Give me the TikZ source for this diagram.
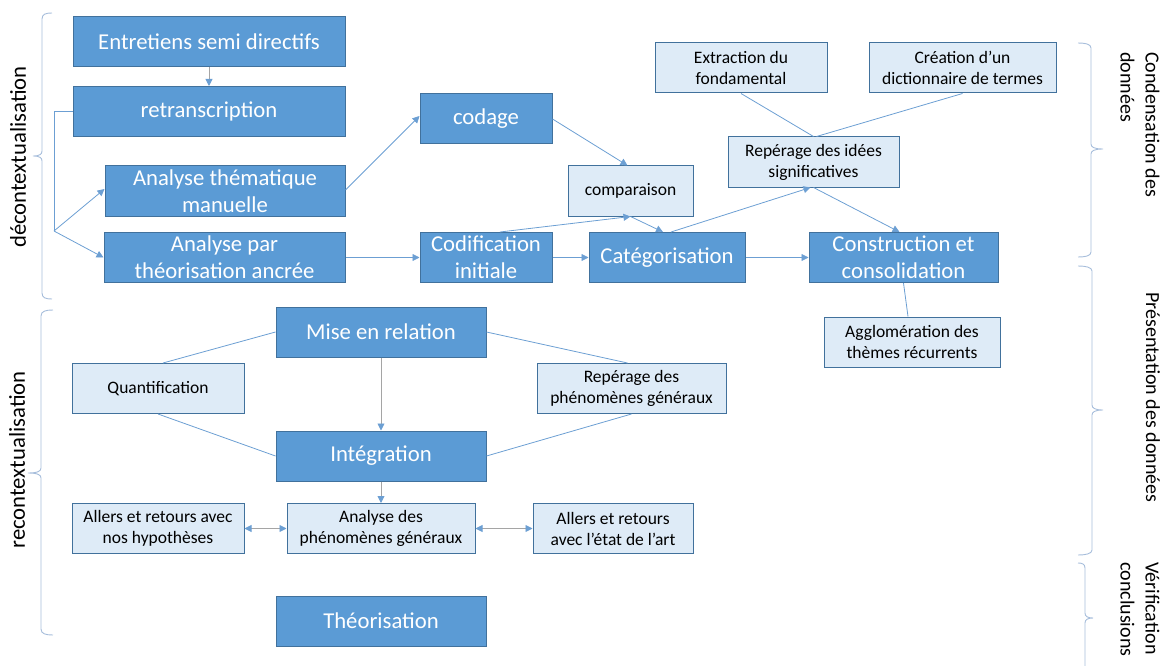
\documentclass[tikz,border=0pt]{standalone}
\usepackage{fontspec}
\setmainfont{Carlito}
\usetikzlibrary{arrows.meta,calc}
\definecolor{dk}{HTML}{5B9BD5}
\definecolor{bd}{HTML}{41719C}
\definecolor{lt}{HTML}{DEEBF7}
\definecolor{ln}{HTML}{6C9FD3}
\definecolor{gr}{HTML}{A5A5A5}
\definecolor{br}{HTML}{A6BDDB}
\begin{document}
\begin{tikzpicture}[x=1pt,y=-1pt,
 dark/.style={draw=bd,fill=dk,line width=1pt,text=white,align=center,inner sep=0pt,minimum height=50pt,font=\fontsize{22.7}{27}\selectfont},
 light/.style={draw=bd,fill=lt,line width=1pt,text=black,align=center,inner sep=0pt,minimum height=50pt,font=\fontsize{17.5}{21}\selectfont},
 link/.style={draw=ln,line width=0.8pt},
 arr/.style={link,-{Triangle[length=7pt,width=7pt]}},
 garr/.style={draw=gr,line width=0.9pt,-{Triangle[length=7pt,width=7pt,color=ln]}},
 darr/.style={draw=gr,line width=0.9pt,{Triangle[length=7pt,width=7pt,color=ln]}-{Triangle[length=7pt,width=7pt,color=ln]}},
 brace/.style={draw=br,line width=0.9pt},
 side/.style={font=\fontsize{22.7}{27}\selectfont,inner sep=0pt,rotate=90},
 rside/.style={font=\fontsize{20}{25}\selectfont,inner sep=0pt,rotate=-90,align=left,anchor=west}]
\useasboundingbox (0,0) rectangle (1165,666);

% dark boxes
\node[dark,minimum width=272pt] (ent) at (209,42) {Entretiens semi directifs};
\node[dark,minimum width=272pt] (ret) at (209,111.5) {retranscription};
\node[dark,minimum width=240pt] (atm) at (225,191) {Analyse thématique\\manuelle};
\node[dark,minimum width=241pt] (apt) at (224.5,257.5) {Analyse par\\théorisation ancrée};
\node[dark,minimum width=132pt] (cod) at (486,119) {codage};
\node[dark,minimum width=132pt] (ci) at (486,257.5) {Codification\\initiale};
\node[dark,minimum width=156pt] (cat) at (667,257.5) {Catégorisation};
\node[dark,minimum width=189pt] (cons) at (903.5,257.5) {Construction et\\consolidation};
\node[dark,minimum width=210pt] (mer) at (381,332) {Mise en relation};
\node[dark,minimum width=210pt] (integ) at (381,456) {Intégration};
\node[dark,minimum width=210pt] (theo) at (381,621) {Théorisation};

% light boxes
\node[light,minimum width=125pt] (comp) at (630.5,191) {comparaison};
\node[light,minimum width=172pt] (extr) at (741,68) {Extraction du\\fondamental};
\node[light,minimum width=187pt] (crea) at (962.5,68) {Création d’un\\dictionnaire de termes};
\node[light,minimum width=171pt] (rep) at (813.5,162) {Repérage des idées\\significatives};
\node[light,minimum width=176pt] (aggl) at (912,342) {Agglomération des\\thèmes récurrents};
\node[light,minimum width=172pt] (quant) at (158,388.5) {Quantification};
\node[light,minimum width=189pt] (reph) at (631.5,388.5) {Repérage des\\phénomènes généraux};
\node[light,minimum width=188pt] (anph) at (381,528.5) {Analyse des\\phénomènes généraux};
\node[light,minimum width=172pt] (anyp) at (158,528) {Allers et retours avec\\nos hypothèses};
\node[light,minimum width=160pt] (etat) at (613,528.5) {Allers et retours\\avec l’état de l’art};

% connectors
\coordinate (split) at (54,231);
\draw[garr] (ent) -- (ret);
\draw[link] (ret.west) -| (split);
\draw[arr] (split) -- ([yshift=2pt]atm.west);
\draw[arr] (split) -- (apt.west);
\draw[arr] ([yshift=1pt]atm.east) -- ([yshift=3pt]cod.west);
\draw[arr] (apt.east) -- (ci.west);
\draw[arr] (cod.east) -- ([xshift=-3pt]comp.north);
\draw[arr] ([xshift=14pt]ci.north) -- (comp.south);
\draw[arr] (comp.south) -- ([xshift=-4pt]cat.north);
\draw[arr] (ci.east) -- (cat.west);
\draw[arr] ([xshift=4pt]cat.north) -- ([xshift=-3pt]rep.south);
\draw[arr] (rep.south) -- ([xshift=-4pt]cons.north);
\draw[arr] (cat.east) -- (cons.west);
\draw[link] (extr.south) -- (rep.north);
\draw[link] (crea.south) -- ([xshift=3pt]rep.north);
\draw[link] (cons.south) -- ([xshift=-4pt]aggl.north);
\draw[link] (mer.west) -- ([xshift=5pt]quant.north);
\draw[link] (quant.south) -- (integ.west);
\draw[link] (mer.east) -- ([xshift=-4pt]reph.north);
\draw[link] (reph.south) -- (integ.east);
\draw[garr] (mer) -- (integ);
\draw[garr] (integ) -- (anph);
\draw[darr] (anyp.east |- anph.west) -- (anph.west);
\draw[darr] (anph.east) -- (etat.west);

% braces
\draw[brace] (52,13) .. controls (46,13) and (42,14) .. (42,19) -- (42,151) .. controls (42,154) and (40,156) .. (33,156) .. controls (40,156) and (42,158) .. (42,161) -- (42,293) .. controls (42,298) and (46,299) .. (52,299);
\draw[brace] (53,310) .. controls (46,310) and (41,311) .. (41,316) -- (41,468) .. controls (41,471) and (38,473) .. (28,473) .. controls (38,473) and (41,475) .. (41,478) -- (41,629) .. controls (41,634) and (46,635) .. (53,635);
\draw[brace] (1078,43) .. controls (1085,43) and (1091,44) .. (1091,48) -- (1091,144) .. controls (1091,147) and (1094,149) .. (1103,149) .. controls (1094,149) and (1091,151) .. (1091,154) -- (1091,252) .. controls (1091,256) and (1085,257) .. (1078,257);
\draw[brace] (1078,266) .. controls (1085,266) and (1092,267) .. (1092,271) -- (1092,405) .. controls (1092,408) and (1095,410) .. (1103,410) .. controls (1095,410) and (1092,412) .. (1092,415) -- (1092,550) .. controls (1092,554) and (1085,555) .. (1078,555);
\draw[brace] (1078,563) .. controls (1082,563) and (1085,564) .. (1085,568) -- (1085,613) .. controls (1085,616) and (1087,618) .. (1093,618) .. controls (1087,618) and (1085,620) .. (1085,623) -- (1085,666);

% side labels
\node[side] (lbl1) at (18,157) {décontextualisation};
\node[side] (lbl2) at (17,460) {recontextualisation};
\node[rside] (lbl3) at (1140,52) {Condensation des\\données};
\node[rside] (lbl4) at (1153,292) {Présentation des données};
\node[rside] (lbl5) at (1140,562) {Vérification\\conclusions};
\end{tikzpicture}
\end{document}
